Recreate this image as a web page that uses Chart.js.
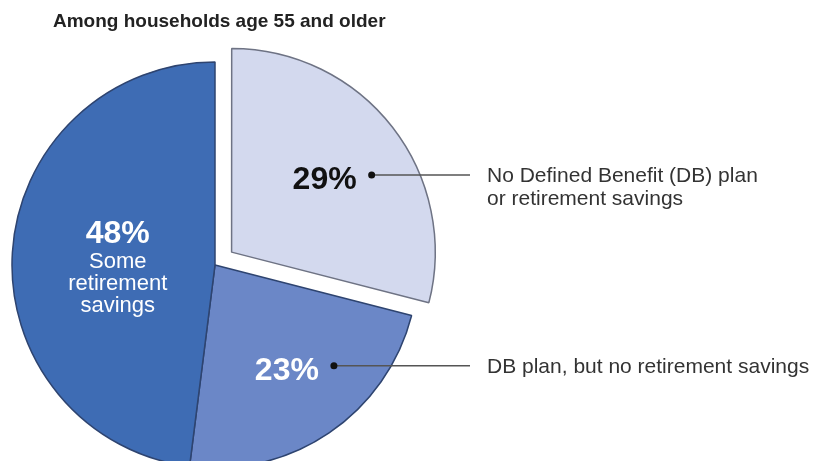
<!DOCTYPE html>
<html lang="en">
<head>
<meta charset="UTF-8">
<title>Retirement savings among households age 55 and older</title>
<script src="https://cdn.jsdelivr.net/npm/chart.js"></script>
<style>
  html, body { margin: 0; padding: 0; background: #fff; }
  #wrap { width: 825px; height: 461px; overflow: hidden; }
</style>
</head>
<body>
<div id="wrap"><canvas id="pie" width="825" height="461"></canvas></div>
<script>
  // data
  const chartTitle = 'Among households age 55 and older';
  const categories = [
    'No Defined Benefit (DB) plan or retirement savings',
    'DB plan, but no retirement savings',
    'Some retirement savings'
  ];
  const shares = [29, 23, 48];
  const calloutText = [
    ['No Defined Benefit (DB) plan', 'or retirement savings'],
    ['DB plan, but no retirement savings'],
    null
  ];
  const insideText = [null, null, ['Some', 'retirement', 'savings']];

  const FONT = '"Liberation Sans", Arial, sans-serif';

  // labels, callouts and title drawn on top of the slices
  // (chart.js v4 pulls an offset arc out by offset / 4)
  const sliceLabels = {
    id: 'sliceLabels',
    afterDatasetsDraw(chart, args, opts) {
      const ctx = chart.ctx;
      const meta = chart.getDatasetMeta(0);
      ctx.save();

      ctx.fillStyle = '#222';
      ctx.font = 'bold 19px ' + FONT;
      ctx.textAlign = 'left';
      ctx.textBaseline = 'alphabetic';
      ctx.fillText(chartTitle, 53, 27);

      meta.data.forEach((arc, i) => {
        const p = arc.getProps(['x', 'y', 'startAngle', 'endAngle', 'outerRadius']);
        const mid = (p.startAngle + p.endAngle) / 2;
        const shift = (arc.options.offset || 0) / 4;
        const d = shift + opts.radial[i] * p.outerRadius;
        const ax = p.x + Math.cos(mid) * d;
        const ay = p.y + Math.sin(mid) * d;
        const pctTxt = shares[i] + '%';

        ctx.textAlign = 'center';
        ctx.textBaseline = 'middle';
        ctx.fillStyle = opts.pctColor[i];
        ctx.font = 'bold 32px ' + FONT;
        const w = ctx.measureText(pctTxt).width;

        if (insideText[i]) {
          ctx.fillText(pctTxt, ax, ay - 25);
          ctx.font = '22px ' + FONT;
          insideText[i].forEach((t, k) => ctx.fillText(t, ax, ay + 3 + k * 22));
        } else {
          ctx.fillText(pctTxt, ax, ay);
        }

        if (calloutText[i]) {
          const dotX = ax + w / 2 + 15;
          const dotY = ay - 5;
          ctx.strokeStyle = '#555';
          ctx.lineWidth = 1.5;
          ctx.beginPath();
          ctx.moveTo(dotX, dotY);
          ctx.lineTo(opts.lineEnd, dotY);
          ctx.stroke();
          ctx.fillStyle = '#111';
          ctx.beginPath();
          ctx.arc(dotX, dotY, 3.5, 0, Math.PI * 2);
          ctx.fill();

          ctx.fillStyle = '#333';
          ctx.font = '21px ' + FONT;
          ctx.textAlign = 'left';
          calloutText[i].forEach((t, k) => ctx.fillText(t, opts.textX, dotY + 1 + k * 23));
        }
      });
      ctx.restore();
    }
  };

  new Chart(document.getElementById('pie'), {
    type: 'pie',
    data: {
      labels: categories,
      datasets: [{
        data: shares,
        backgroundColor: ['#d3d9ee', '#6b87c7', '#3e6cb4'],
        borderColor: ['#6e7384', '#2e4470', '#2e4470'],
        borderWidth: 1.5,
        offset: [84, 0, 0],
        hoverOffset: 0
      }]
    },
    options: {
      responsive: false,
      animation: false,
      devicePixelRatio: 1,
      radius: 203,
      layout: { padding: { left: 0, right: 395, top: 69, bottom: 0 } },
      plugins: {
        legend: { display: false },
        tooltip: { enabled: false },
        sliceLabels: {
          radial: [0.58, 0.63, 0.48],
          pctColor: ['#111', '#fff', '#fff'],
          lineEnd: 470,
          textX: 487
        }
      }
    },
    plugins: [sliceLabels]
  });
</script>
</body>
</html>
